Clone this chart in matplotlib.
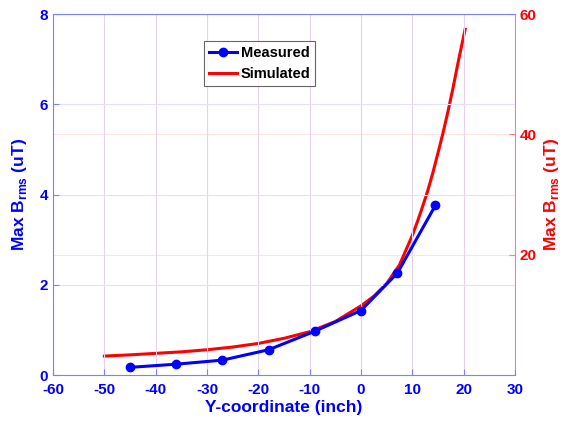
import matplotlib
matplotlib.use("Agg")
import matplotlib.pyplot as plt

plt.rcParams['font.family'] = ['Liberation Sans', 'DejaVu Sans']
plt.rcParams['font.weight'] = 'bold'
plt.rcParams['axes.unicode_minus'] = False
plt.rcParams['mathtext.fontset'] = 'custom'
plt.rcParams['mathtext.rm'] = 'Liberation Sans'
plt.rcParams['mathtext.bf'] = 'Liberation Sans:bold'

# Measured data (left axis)
meas_x = [-45, -36, -27, -18, -9, 0, 7.1, 14.5]
meas_y = [0.17, 0.24, 0.33, 0.56, 0.97, 1.43, 2.26, 3.76]

# Simulated data (right axis)
sim_x = [-50, -45, -40, -35, -30, -25, -20, -15, -10, -5, 0, 2.5, 5, 7.5,
         10, 11, 12, 13, 14, 15, 16, 17, 18, 19, 20.3]
sim_y = [3.15, 3.35, 3.6, 3.85, 4.2, 4.65, 5.25, 6.1, 7.2, 8.9, 11.5, 13.1, 15.2, 18.3,
         23.2, 25.5, 28.0, 30.6, 33.6, 36.9, 40.3, 44.0, 48.0, 52.3, 57.5]

x_ticks = [-60, -50, -40, -30, -20, -10, 0, 10, 20, 30]
left_ticks = [0, 2, 4, 6, 8]
right_ticks = [20, 40, 60]

BLUE = '#0000ff'
RED = '#ff0000'

fig = plt.figure(figsize=(5.64, 4.28), dpi=100)
ax = fig.add_axes([0.094, 0.1238, 0.819, 0.843])
ax2 = ax.twinx()
ax.set_zorder(ax2.get_zorder() + 1)
ax.patch.set_visible(False)

# grids
ax.set_xticks(x_ticks)
ax.set_yticks(left_ticks)
ax.grid(axis='x', color='#e6d2ec', linewidth=0.8)
ax.grid(axis='y', color='#e2e2ff', linewidth=0.8)
ax2.set_yticks(right_ticks)
ax2.grid(axis='y', color='#ffe2e2', linewidth=0.8)

ax2.plot(sim_x, sim_y, color=RED, linewidth=2.2, label='Simulated')
ax.plot(meas_x, meas_y, color=BLUE, linewidth=2.2, marker='o', markersize=6,
        label='Measured')

ax.set_xlim(-60, 30)
ax.set_ylim(0, 8)
ax2.set_ylim(0, 60)

for a in (ax, ax2):
    for s in a.spines.values():
        s.set_visible(False)
ax.spines['left'].set_visible(True)
ax.spines['bottom'].set_visible(True)
ax.spines['top'].set_visible(True)
ax.spines['left'].set_color('#8080ff')
ax.spines['bottom'].set_color('#8080ff')
ax.spines['top'].set_color('#8080ff')
ax2.spines['right'].set_visible(True)
ax2.spines['right'].set_color('#ff8080')

ax.tick_params(axis='x', direction='in', colors=BLUE, labelsize=11, length=4,
               color='#8080ff', pad=6)
ax.tick_params(axis='y', direction='in', colors=BLUE, labelsize=11, length=4,
               color='#8080ff')
ax2.tick_params(axis='y', direction='in', colors=RED, labelsize=11, length=4,
                color='#ff8080')

ax.set_xlabel('Y-coordinate (inch)', color=BLUE, fontsize=12.5, fontweight='bold', labelpad=2)
ax.set_ylabel(r'Max B$_{\rm rms}$ (uT)', color=BLUE, fontsize=12.5, fontweight='bold', labelpad=8)
ax2.set_ylabel(r'Max B$_{\rm rms}$ (uT)', color=RED, fontsize=12.5, fontweight='bold', labelpad=4)

h1, l1 = ax.get_legend_handles_labels()
h2, l2 = ax2.get_legend_handles_labels()
leg = ax.legend(h1 + h2, l1 + l2, loc='upper left', bbox_to_anchor=(0.327, 0.925),
                borderaxespad=0, fontsize=10.5, frameon=True, fancybox=False,
                edgecolor='#404040', handlelength=1.9, borderpad=0.35,
                labelspacing=0.45, handletextpad=0.25)
leg.get_frame().set_linewidth(0.8)

fig.savefig('out.png', dpi=100)
